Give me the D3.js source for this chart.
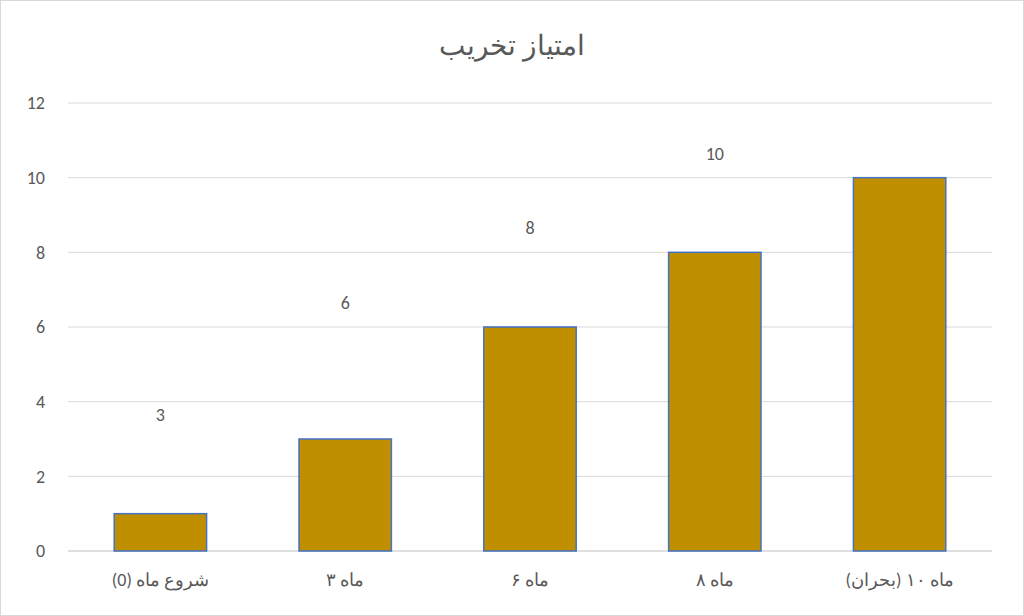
<!DOCTYPE html><html><head><meta charset="utf-8"><script src="https://d3js.org/d3.v7.min.js"></script>
<style>body{margin:0;background:#fff}svg{display:block}</style></head><body>
<svg id="c" width="1024" height="616"></svg>
<script>
const categories=["شروع ماه (0)","ماه ۳","ماه ۶","ماه ۸","ماه ۱۰ (بحران)"];
const values=[1,3,6,8,10];
const showLabel=[false,true,true,true,true];
const yTicks=[0,2,4,6,8,10,12];
const title="امتیاز تخریب";
const svg=d3.select("#c");
const font="Calibri, 'Liberation Sans', Arial, sans-serif";
svg.append("rect").attr("x",0.5).attr("y",0.5).attr("width",1023).attr("height",615).attr("fill","#fff").attr("stroke","#d9d9d9");
const x=d3.scaleBand().domain(categories).range([68,992]).paddingInner(0.5).paddingOuter(0.25);
const y=d3.scaleLinear().domain([0,12]).range([551,103]);
svg.append("g").selectAll("line").data(yTicks).join("line")
 .attr("x1",68).attr("x2",992).attr("y1",d=>y(d)).attr("y2",d=>y(d)).attr("stroke",d=>d===0?"#bfbfbf":"#d9d9d9").attr("stroke-width",1);
svg.append("g").selectAll("text").data(yTicks).join("text")
 .attr("x",45).attr("y",d=>y(d)).attr("dy","0.35em").attr("text-anchor","end")
 .attr("font-family",font).attr("font-size",18).attr("fill","#595959").text(d=>d);
svg.append("g").selectAll("rect").data(values).join("rect")
 .attr("x",(d,i)=>x(categories[i])).attr("width",x.bandwidth())
 .attr("y",d=>y(d)).attr("height",d=>y(0)-y(d))
 .attr("fill","#bf8f00").attr("stroke","#4472c4").attr("stroke-width",1.5);
svg.append("g").selectAll("text").data(values).join("text")
 .filter((d,i)=>showLabel[i])
 .attr("x",(d,i)=>x(categories[i])+x.bandwidth()/2).attr("y",d=>y(d)-18)
 .attr("text-anchor","middle").attr("font-family",font).attr("font-size",18).attr("fill","#595959").text(d=>d);
svg.append("g").selectAll("text").data(categories).join("text")
 .attr("x",d=>x(d)+x.bandwidth()/2).attr("y",586).attr("text-anchor","middle")
 .attr("font-family",font).attr("font-size",18).attr("fill","#595959").attr("direction","rtl").attr("unicode-bidi","plaintext").text(d=>d);
svg.append("text").attr("x",512).attr("y",55).attr("text-anchor","middle")
 .attr("font-family",font).attr("font-size",28).attr("fill","#595959").text(title);
</script></body></html>
